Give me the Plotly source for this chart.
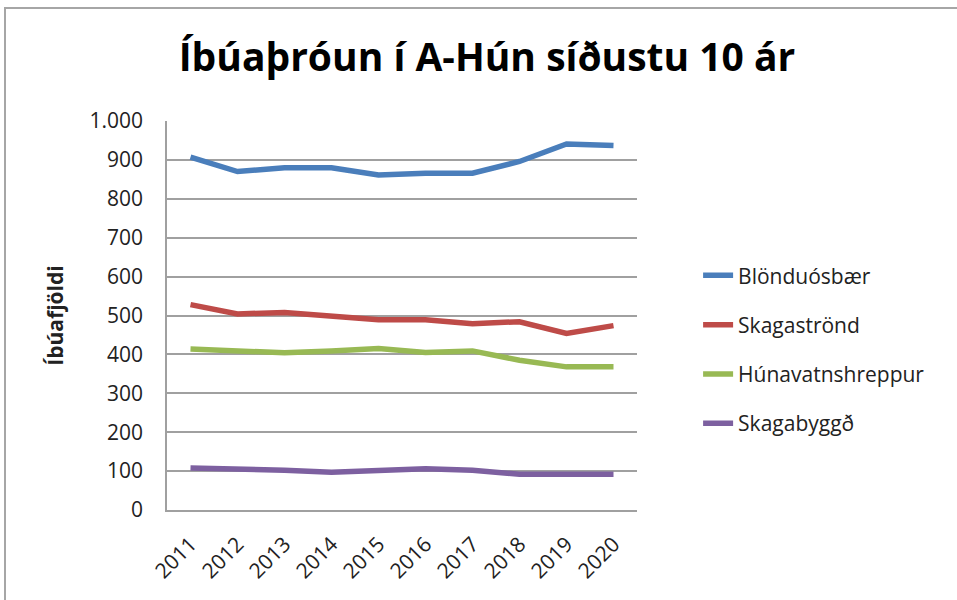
import plotly.graph_objects as go

years = ["2011", "2012", "2013", "2014", "2015", "2016", "2017", "2018", "2019", "2020"]
blonduosbaer = [907, 870, 880, 880, 861, 866, 866, 896, 941, 937]
skagastrond = [528, 504, 508, 497, 489, 489, 479, 484, 454, 474]
hunavatnshreppur = [414, 409, 404, 409, 415, 405, 409, 385, 368, 368]
skagabyggd = [108, 106, 102, 97, 102, 106, 102, 92, 92, 92]

series = [
    ("Blönduósbær", blonduosbaer, "#4A7EBB"),
    ("Skagaströnd", skagastrond, "#BE4B48"),
    ("Húnavatnshreppur", hunavatnshreppur, "#98B954"),
    ("Skagabyggð", skagabyggd, "#7D60A0"),
]

fig = go.Figure()
for name, vals, col in series:
    fig.add_trace(go.Scatter(x=years, y=vals, name=name, mode="lines",
                             line=dict(color=col, width=5.5), legendgroup=name))

font_family = "Open Sans, Liberation Sans, sans-serif"
fig.update_layout(
    width=957, height=600,
    margin=dict(l=167, r=320, t=121, b=90),
    paper_bgcolor="white", plot_bgcolor="white",
    separators=",.",
    title=dict(text="<b>Íbúaþróun í A-Hún síðustu 10 ár</b>", x=487 / 957, xanchor="center",
               y=1 - 57 / 600, yanchor="middle",
               font=dict(family=font_family, size=39, color="black")),
    font=dict(family=font_family, size=21, color="#333333"),
    showlegend=True,
    legend=dict(x=1.13, y=0.655, xanchor="left", yanchor="top",
                font=dict(size=21, color="#222222"), tracegroupgap=19,
                bgcolor="rgba(0,0,0,0)"),
    xaxis=dict(type="category", range=[-0.5, 9.5], tickangle=-45,
               showline=True, linecolor="#A0A0A0", linewidth=1.5,
               showgrid=False, ticks="", ticklabelstandoff=12,
               tickfont=dict(size=21, color="#222222")),
    yaxis=dict(range=[0, 1000], dtick=100, tickformat=",",
               showline=True, linecolor="#A0A0A0", linewidth=1.5,
               showgrid=True, gridcolor="#A0A0A0", gridwidth=1.5,
               ticks="", ticklabelstandoff=18, tickfont=dict(size=21, color="#222222"),
               title=dict(text="<b>Íbúafjöldi</b>", standoff=20,
                          font=dict(size=21, color="#222222")), zeroline=False),
    shapes=[dict(type="rect", xref="paper", yref="paper", x0=(5 - 167) / 470, x1=1.8,
                 y0=-0.4, y1=(510 - 8) / 389, line=dict(color="#A6A6A6", width=2),
                 fillcolor="rgba(0,0,0,0)", layer="below")],
)

fig.write_html("out.html", config={"displayModeBar": False},
               post_script="document.body.style.margin='0';document.body.style.overflow='hidden';")
